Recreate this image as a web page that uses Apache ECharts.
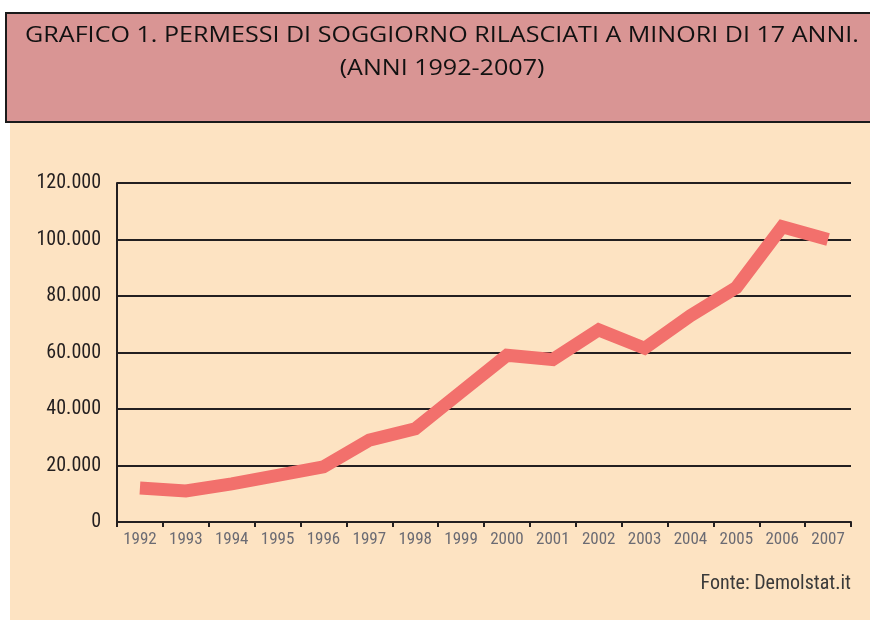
<!DOCTYPE html>
<html>
<head>
<meta charset="utf-8">
<script src="https://cdn.jsdelivr.net/npm/echarts@6/dist/echarts.min.js"></script>
<style>
  html, body { margin: 0; padding: 0; background: #fff; }
  #chart { width: 870px; height: 624px; }
</style>
</head>
<body>
<div id="chart"></div>
<script>
const years = ['1992', '1993', '1994', '1995', '1996', '1997', '1998', '1999',
  '2000', '2001', '2002', '2003', '2004', '2005', '2006', '2007'];
const permessi = [12000, 11000, 13500, 16500, 19500, 29000, 33000, 46000,
  59000, 57500, 68000, 61500, 73000, 83000, 104500, 100000];
const titleLines = ['GRAFICO 1. PERMESSI DI SOGGIORNO RILASCIATI A MINORI DI 17 ANNI.', '(ANNI 1992-2007)'];
const source = 'Fonte: Demolstat.it';

const narrow = '"Liberation Sans Narrow", "Roboto Condensed", "Liberation Sans", sans-serif';
const titleFont = '"Open Sans", "Noto Sans", sans-serif';

const chart = echarts.init(document.getElementById('chart'));

chart.setOption({
  animation: false,
  backgroundColor: '#ffffff',
  graphic: [
    // cream panel behind the chart
    { type: 'rect', z: -10, shape: { x: 10, y: 122, width: 860, height: 498 },
      style: { fill: '#fde3c2' } },
    // pink title box
    { type: 'rect', z: -5, shape: { x: 6, y: 13, width: 870, height: 109 },
      style: { fill: '#d99594', stroke: '#1a1a1a', lineWidth: 2 } },
    { type: 'text', z: 5, x: 442, y: 36, scaleX: 1.14,
      style: { x: 0, y: 0, text: titleLines[0], fill: '#111', font: '22px ' + titleFont,
        align: 'center', verticalAlign: 'middle' } },
    { type: 'text', z: 5, x: 442, y: 69, scaleX: 1.14,
      style: { x: 0, y: 0, text: titleLines[1], fill: '#111', font: '22px ' + titleFont,
        align: 'center', verticalAlign: 'middle' } },
    { type: 'text', z: 5,
      style: { x: 851, y: 584, text: source, fill: '#3a3a3a', font: '20px ' + narrow,
        align: 'right', verticalAlign: 'middle' } }
  ],
  grid: { left: 117, right: 19, top: 183, bottom: 102 },
  xAxis: {
    type: 'category',
    data: years,
    boundaryGap: true,
    axisLine: { show: true, lineStyle: { color: '#231f20', width: 2 } },
    axisTick: { show: true, length: 5, interval: 0, lineStyle: { color: '#231f20', width: 2 } },
    axisLabel: { color: '#6b6b73', fontFamily: narrow, fontSize: 17, margin: 9, interval: 0 },
    splitLine: { show: false }
  },
  yAxis: {
    type: 'value',
    min: 0,
    max: 120000,
    interval: 20000,
    axisLine: { show: true, lineStyle: { color: '#231f20', width: 2 } },
    axisTick: { show: false },
    axisLabel: {
      color: '#231f20', fontFamily: narrow, fontSize: 20, margin: 16,
      formatter: v => v === 0 ? '0' : (v / 1000) + '.000'
    },
    splitLine: { show: true, lineStyle: { color: '#231f20', width: 2 } }
  },
  series: [{
    type: 'line',
    data: permessi,
    symbol: 'none',
    lineStyle: { color: '#f2706c', width: 13, cap: 'butt', join: 'miter' },
    z: 3
  }]
});
</script>
</body>
</html>
